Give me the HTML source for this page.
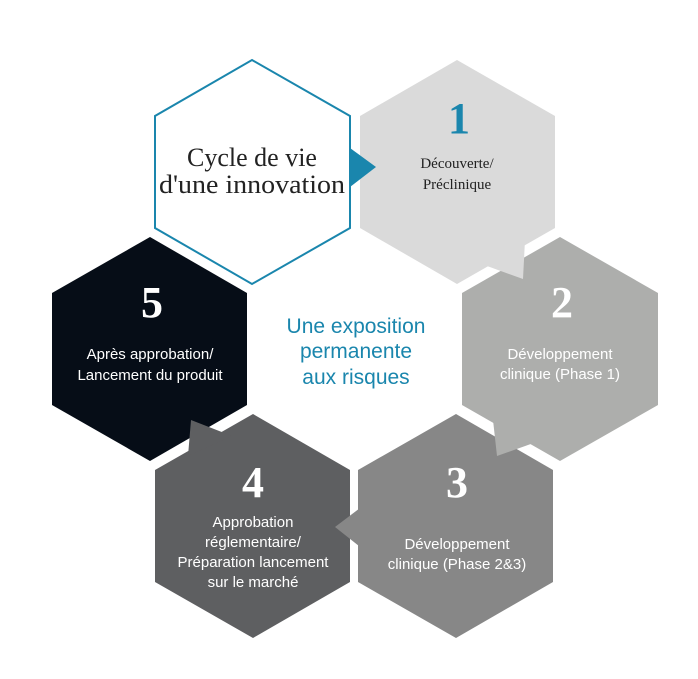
<!DOCTYPE html>
<html><head><meta charset="utf-8"><style>
html,body{margin:0;padding:0;background:#fff;}
svg{display:block;}
.s{font-family:"Liberation Sans",sans-serif;}
.r{font-family:"Liberation Serif",serif;}
</style></head><body>
<svg width="698" height="679" viewBox="0 0 698 679" xmlns="http://www.w3.org/2000/svg">
<polygon points="457,60 555,116 555,228 457,284 360,228 360,116" fill="#dadada"/>
<polygon points="560,237 658,293 658,405 560,461 462,405 462,293" fill="#adaeac"/>
<polygon points="456,414 553,470 553,582 456,638 358,582 358,470" fill="#878787"/>
<polygon points="253,414 350,470 350,582 253,638 155,582 155,470" fill="#5e5f61"/>
<polygon points="150,237 247,293 247,405 150,461 52,405 52,293" fill="#060d17"/>
<!-- tabs on top -->
<polygon points="525,240 523,279 487,266" fill="#dadada"/>
<polygon points="493,420 497,456 542,440" fill="#adaeac"/>
<polygon points="335,527 364,505 364,550" fill="#878787"/>
<polygon points="191,420 188,456 232,436" fill="#5e5f61"/>
<!-- outline hex -->
<polygon points="252,60 350,116 350,228 252,284 155,228 155,116" fill="#fff" stroke="#1a86ad" stroke-width="2"/>
<polygon points="350,148 376,167 350,187" fill="#1a86ad"/>

<text x="252" y="166" class="r" font-size="26" fill="#222" text-anchor="middle">Cycle de vie</text>
<text x="252" y="193" class="r" font-size="26" fill="#222" text-anchor="middle" textLength="186" lengthAdjust="spacingAndGlyphs">d'une innovation</text>

<text x="459" y="133" class="r" font-size="44" font-weight="bold" fill="#1a86ad" text-anchor="middle">1</text>
<text x="457" y="168" class="r" font-size="15" fill="#222" text-anchor="middle">Découverte/</text>
<text x="457" y="189" class="r" font-size="15" fill="#222" text-anchor="middle">Préclinique</text>

<text x="562" y="317" class="r" font-size="44" font-weight="bold" fill="#fff" text-anchor="middle">2</text>
<text x="560" y="359" class="s" font-size="15" fill="#fff" text-anchor="middle">Développement</text>
<text x="560" y="379" class="s" font-size="15" fill="#fff" text-anchor="middle">clinique (Phase 1)</text>

<text x="457" y="497" class="r" font-size="44" font-weight="bold" fill="#fff" text-anchor="middle">3</text>
<text x="457" y="549" class="s" font-size="15" fill="#fff" text-anchor="middle">Développement</text>
<text x="457" y="569" class="s" font-size="15" fill="#fff" text-anchor="middle">clinique (Phase 2&amp;3)</text>

<text x="253" y="497" class="r" font-size="44" font-weight="bold" fill="#fff" text-anchor="middle">4</text>
<text x="253" y="527" class="s" font-size="15" fill="#fff" text-anchor="middle">Approbation</text>
<text x="253" y="547" class="s" font-size="15" fill="#fff" text-anchor="middle">réglementaire/</text>
<text x="253" y="567" class="s" font-size="15" fill="#fff" text-anchor="middle">Préparation lancement</text>
<text x="253" y="587" class="s" font-size="15" fill="#fff" text-anchor="middle">sur le marché</text>

<text x="152" y="317" class="r" font-size="44" font-weight="bold" fill="#fff" text-anchor="middle">5</text>
<text x="150" y="359" class="s" font-size="15" fill="#fff" text-anchor="middle">Après approbation/</text>
<text x="150" y="380" class="s" font-size="15" fill="#fff" text-anchor="middle">Lancement du produit</text>

<text x="356" y="333" class="s" font-size="21" fill="#1a86ad" text-anchor="middle">Une exposition</text>
<text x="356" y="358" class="s" font-size="21" fill="#1a86ad" text-anchor="middle">permanente</text>
<text x="356" y="384" class="s" font-size="21" fill="#1a86ad" text-anchor="middle">aux risques</text>
</svg>
</body></html>
